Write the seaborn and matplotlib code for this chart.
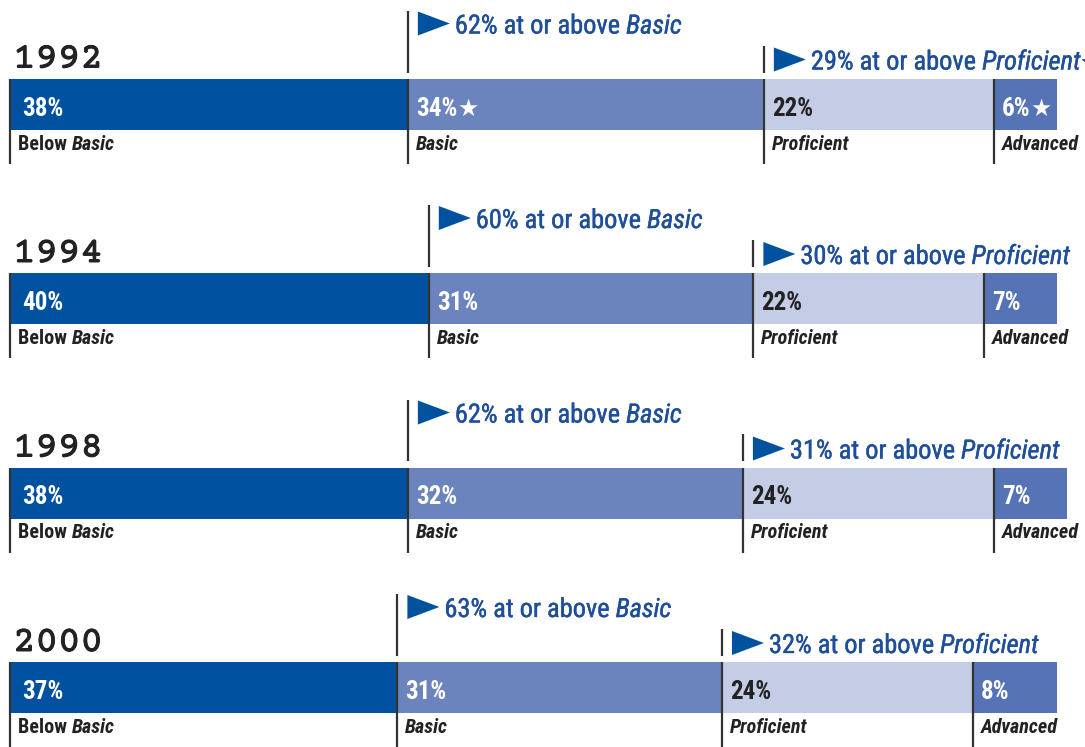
import matplotlib
matplotlib.use('Agg')
import matplotlib.pyplot as plt
import matplotlib.transforms as mtransforms
import matplotlib.patheffects as pe
from matplotlib.patches import Polygon
from matplotlib import font_manager
import seaborn as sns
import numpy as np

# ---------------- data ----------------
years = ['1992', '1994', '1998', '2000']
below_basic = [38, 40, 38, 37]
basic = [34, 31, 32, 31]
proficient = [22, 22, 24, 24]
advanced = [6, 7, 7, 8]
at_or_above_basic = [62, 60, 62, 63]
at_or_above_proficient = [29, 30, 31, 32]
basic_star = [True, False, False, False]
advanced_star = [True, False, False, False]
proficient_summary_star = [True, False, False, False]
level_names = ['Below Basic', 'Basic', 'Proficient', 'Advanced']

# ---------------- style ----------------
W, H, DPI = 1085, 747, 100
sns.set_theme(style='white')
names = {f.name for f in font_manager.fontManager.ttflist}
COND = 'DejaVu Sans'
for cand in ['Roboto Condensed', 'Archivo Narrow', 'Fira Sans Condensed', 'PT Sans Narrow']:
    if cand in names:
        COND = cand
        break
MONO = 'DejaVu Sans Mono'
for cand in ['Courier Prime', 'Liberation Mono']:
    if cand in names:
        MONO = cand
        break
plt.rcParams['font.family'] = [COND, 'DejaVu Sans']

colors = ['#0052A0', '#6B84BE', '#C5CDE6', '#5573B5']
label_colors = ['white', 'white', '#222222', 'white']
ANN = '#1F4F9A'
TRI = '#00529F'
LINE = '#333333'
DARK = '#222222'

fig = plt.figure(figsize=(W / DPI, H / DPI), dpi=DPI)
ax = fig.add_axes([0, 0, 1, 1])

X0, PXPCT, Y0, ROW = 10, 10.47, 104, 194.5
BAR_PX = 51


def dx(p):
    return p / PXPCT


def dy(p):
    return p / ROW


levels = [below_basic, basic, proficient, advanced]
cum = np.cumsum(np.array(levels, dtype=float), axis=0)

# stacked bars: draw cumulative totals from the longest to the shortest
for k in range(3, -1, -1):
    sns.barplot(x=cum[k], y=years, orient='h', color=colors[k], saturation=1,
                width=BAR_PX / ROW, errorbar=None, linewidth=0, ax=ax)

ax.set_xlim(-X0 / PXPCT, (W - X0) / PXPCT)
ax.set_ylim((H - Y0) / ROW, -Y0 / ROW)
ax.axis('off')

renderer = fig.canvas.get_renderer()


def text_width(s, **kw):
    kw = {k: v for k, v in kw.items() if k != 'path_effects'}
    t = ax.text(0, 0, s + 'I', **kw)
    t2 = ax.text(0, 0, 'I', **kw)
    w = t.get_window_extent(renderer).width - t2.get_window_extent(renderer).width
    t.remove()
    t2.remove()
    return w


def rich(x, y, pieces, **common):
    off = 0.0
    for s, kw in pieces:
        opts = {**common, **kw}
        tr = mtransforms.offset_copy(ax.transData, fig=fig, x=off, y=0, units='dots')
        ax.text(x, y, s, transform=tr, **opts)
        off += text_width(s, **opts)


for i, yr in enumerate(years):
    top = i - dy(BAR_PX / 2)
    starts = [0.0] + list(cum[:3, i])

    # year label
    ax.text(dx(3), top - dy(11), yr, family=MONO, fontsize=27,
            color=DARK, va='baseline', ha='left',
            path_effects=[pe.withStroke(linewidth=0.7, foreground=DARK)])

    # segment separators, values and level names
    for k in range(4):
        s = starts[k]
        ax.plot([s, s], [top, top + dy(85)], color=LINE, lw=1.6, solid_capstyle='butt')
        val = f'{levels[k][i]}%'
        star = (k == 1 and basic_star[i]) or (k == 3 and advanced_star[i])
        pad = 12 if k == 0 else 8
        pieces = [(val, {})]
        if star:
            pieces.append(('★', {'family': ['DejaVu Sans'], 'fontsize': 17}))
        rich(s + dx(pad), top + dy(37), pieces, color=label_colors[k],
             fontsize=18, fontweight='bold', va='baseline', ha='left')
        if k == 0:
            lab = [('Below ', {}), ('Basic', {'style': 'italic'})]
        else:
            lab = [(level_names[k], {'style': 'italic'})]
        rich(s + dx(8), top + dy(71), lab, color=DARK, fontsize=14.5,
             fontweight='bold', va='baseline', ha='left')

    # summary annotations
    summaries = [
        (starts[1], 55, 68, f'{at_or_above_basic[i]}% at or above ', 'Basic', False),
        (starts[2], 19, 33, f'{at_or_above_proficient[i]}% at or above ', 'Proficient',
         proficient_summary_star[i]),
    ]
    for b, cpx, lpx, txt, it, star in summaries:
        c = top - dy(cpx)
        ax.plot([b, b], [top - dy(lpx), top - dy(6)], color=LINE, lw=1.6, solid_capstyle='butt')
        tri = Polygon([(b + dx(10), c - dy(12)), (b + dx(10), c + dy(12)), (b + dx(42), c)],
                      closed=True, facecolor=TRI, edgecolor='none')
        ax.add_patch(tri)
        pieces = [(txt, {}), (it, {'style': 'italic'})]
        if star:
            pieces.append(('★', {'family': ['DejaVu Sans'], 'fontsize': 16}))
        rich(b + dx(47), c + dy(10), pieces, color=ANN, fontsize=19,
             va='baseline', ha='left',
             path_effects=[pe.withStroke(linewidth=0.3, foreground=ANN)])

fig.savefig('out.png', dpi=DPI)
